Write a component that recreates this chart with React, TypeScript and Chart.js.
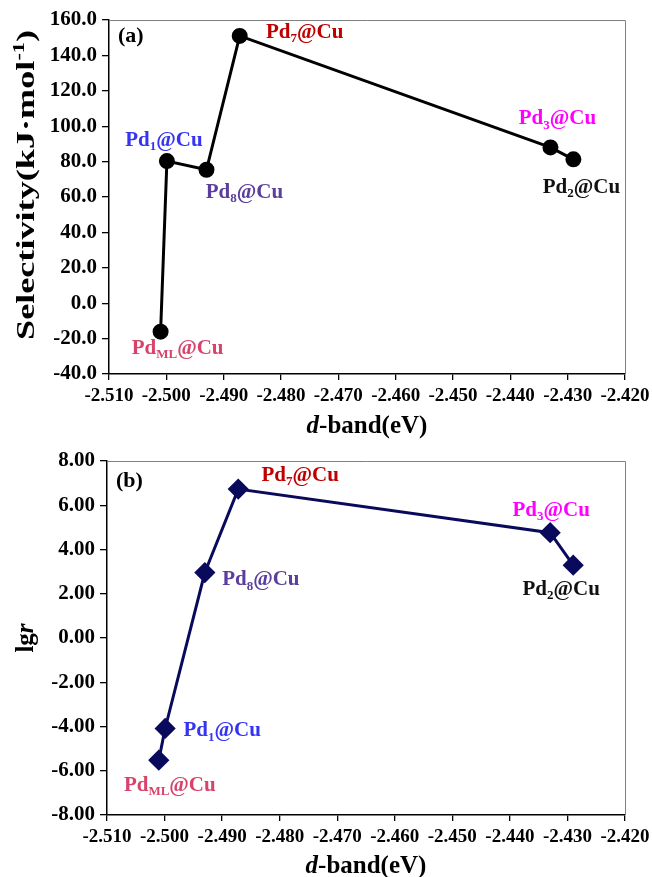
import React, { useEffect, useRef } from 'react';
import { Chart, registerables } from 'chart.js';
Chart.register(...registerables);

// ---------- data ----------
const dBand = [-2.501, -2.4999, -2.493, -2.4872, -2.433, -2.429];
const catalystSubs = ['ML', '1', '8', '7', '3', '2'];
const selectivity = [-16.1, 80.3, 75.4, 151.0, 88.0, 81.3];
const lgR = [-5.52, -4.09, 2.96, 6.73, 4.76, 3.29];
const labelColors = ['#d8436c', '#3434f2', '#5a3d9c', '#c00000', '#ff00ff', '#111111'];
const xRange = [-2.51, -2.42];
const selRange = [-40, 160];
const lgRange = [-8, 8];

// ---------- styling / layout ----------
const FAMILY = '"Liberation Serif", "Times New Roman", serif';
const topLabelOffsets = [[17, 15], [-3, -22], [38, 21], [65, -5], [7, -30], [8, 27]];
const botLabelOffsets = [[11, 24], [57, 1], [56, 6], [62, -15], [1, -24], [-12, 23]];

type Part = { t: string; sub?: boolean; sup?: boolean; italic?: boolean };

function fontFor(p: Part, size: number) {
  const s = p.sub || p.sup ? Math.round(size * 0.62) : size;
  return `${p.italic ? 'italic ' : ''}bold ${s}px ${FAMILY}`;
}

function drawRich(ctx: CanvasRenderingContext2D, parts: Part[], cx: number, cy: number, size: number, color: string, align: 'center' | 'left' = 'center') {
  ctx.save();
  ctx.fillStyle = color;
  ctx.textBaseline = 'alphabetic';
  ctx.textAlign = 'left';
  const widths = parts.map((p) => {
    ctx.font = fontFor(p, size);
    return ctx.measureText(p.t).width;
  });
  const total = widths.reduce((a, b) => a + b, 0);
  let x = align === 'center' ? cx - total / 2 : cx;
  const base = cy + size * 0.33;
  parts.forEach((p, i) => {
    ctx.font = fontFor(p, size);
    let y = base;
    if (p.sub) y = base + size * 0.2;
    if (p.sup) y = base - size * 0.38;
    ctx.fillText(p.t, x, y);
    x += widths[i];
  });
  ctx.restore();
  return total;
}

function measureRich(ctx: CanvasRenderingContext2D, parts: Part[], size: number) {
  ctx.save();
  let total = 0;
  parts.forEach((p) => {
    ctx.font = fontFor(p, size);
    total += ctx.measureText(p.t).width;
  });
  ctx.restore();
  return total;
}

type PanelCfg = {
  values: number[];
  yRange: number[];
  yStep: number;
  yDigits: number;
  lineColor: string;
  pointStyle: string;
  pointRadius: number;
  panelTag: string;
  yTitle: Part[];
  yTitleCenter: number;
  yTitleLength: number | null;
  yTitleSize: number;
  offsets: number[][];
  padTop: number;
  yWidth: number;
  xHeight: number;
  xTitleY: number;
  tagY: number;
};

function makeChart(canvas: HTMLCanvasElement, cfg: PanelCfg) {
  const xTickFont = { family: FAMILY, size: 19, weight: 'bold' as const };
  const yTickFont = { family: FAMILY, size: 21, weight: 'bold' as const };
  const overlay = {
    id: 'overlay',
    afterDraw(chart: any) {
      const ctx = chart.ctx as CanvasRenderingContext2D;
      const a = chart.chartArea;
      // frame top/right
      ctx.save();
      ctx.strokeStyle = '#808080';
      ctx.lineWidth = 1;
      ctx.beginPath();
      ctx.moveTo(a.left, a.top + 0.5);
      ctx.lineTo(a.right + 0.5, a.top + 0.5);
      ctx.lineTo(a.right + 0.5, a.bottom);
      ctx.stroke();
      ctx.restore();
      // panel tag
      drawRich(ctx, [{ t: cfg.panelTag }], a.left + 9, cfg.tagY, 22, '#000', 'left');
      // point labels
      const meta = chart.getDatasetMeta(0);
      meta.data.forEach((pt: any, i: number) => {
        const off = cfg.offsets[i];
        drawRich(
          ctx,
          [{ t: 'Pd' }, { t: catalystSubs[i], sub: true }, { t: '@Cu' }],
          pt.x + off[0],
          pt.y + off[1],
          21,
          labelColors[i]
        );
      });
      // x title
      drawRich(ctx, [{ t: 'd', italic: true }, { t: '-band(eV)' }], (a.left + a.right) / 2, cfg.xTitleY, 25, '#000');
      // y title
      ctx.save();
      ctx.translate(25, cfg.yTitleCenter);
      ctx.rotate(-Math.PI / 2);
      if (cfg.yTitleLength) {
        const w = measureRich(ctx, cfg.yTitle, cfg.yTitleSize);
        ctx.scale(cfg.yTitleLength / w, 1);
      }
      drawRich(ctx, cfg.yTitle, 0, 0, cfg.yTitleSize, '#000');
      ctx.restore();
    },
  };

  return new Chart(canvas, {
    type: 'line',
    data: {
      datasets: [
        {
          data: dBand.map((x, i) => ({ x, y: cfg.values[i] })),
          borderColor: cfg.lineColor,
          backgroundColor: cfg.lineColor,
          borderWidth: 3,
          pointStyle: cfg.pointStyle as any,
          pointRadius: cfg.pointRadius,
          pointBackgroundColor: cfg.lineColor,
          pointBorderColor: cfg.lineColor,
          tension: 0,
        },
      ],
    },
    options: {
      responsive: false,
      animation: false,
      layout: { padding: { top: cfg.padTop, right: 27, left: 0, bottom: 0 } },
      plugins: { legend: { display: false }, tooltip: { enabled: false } },
      scales: {
        x: {
          type: 'linear',
          min: xRange[0],
          max: xRange[1],
          ticks: {
            stepSize: 0.01,
            autoSkip: false,
            maxRotation: 0,
            font: xTickFont,
            color: '#000',
            padding: 5,
            callback: (v: any) => Number(v).toFixed(3),
          },
          grid: { drawOnChartArea: false, drawTicks: true, tickLength: 6, color: '#000', lineWidth: 1.3 },
          border: { color: '#000', width: 1.5 },
          afterFit: (s: any) => {
            s.height = cfg.xHeight;
            s.paddingRight = 0;
            s.paddingLeft = 0;
          },
        },
        y: {
          type: 'linear',
          min: cfg.yRange[0],
          max: cfg.yRange[1],
          ticks: {
            stepSize: cfg.yStep,
            font: yTickFont,
            color: '#000',
            padding: 5,
            callback: (v: any) => Number(v).toFixed(cfg.yDigits),
          },
          grid: { drawOnChartArea: false, drawTicks: true, tickLength: 7, color: '#000', lineWidth: 1.3 },
          border: { color: '#000', width: 1.5 },
          afterFit: (s: any) => {
            s.width = cfg.yWidth;
            s.paddingTop = 0;
            s.paddingBottom = 0;
          },
        },
      },
    },
    plugins: [overlay],
  } as any);
}

export default function App() {
  const topRef = useRef<HTMLCanvasElement>(null);
  const botRef = useRef<HTMLCanvasElement>(null);

  useEffect(() => {
    const c1 = makeChart(topRef.current!, {
      values: selectivity,
      yRange: selRange,
      yStep: 20,
      yDigits: 1,
      lineColor: '#000000',
      pointStyle: 'circle',
      pointRadius: 6.5,
      panelTag: '(a)',
      yTitle: [{ t: 'Selectivity(kJ·mol' }, { t: '-1', sup: true }, { t: ')' }],
      yTitleCenter: 185,
      yTitleLength: 310,
      yTitleSize: 26,
      offsets: topLabelOffsets,
      padTop: 20,
      yWidth: 109,
      xHeight: 66,
      xTitleY: 425,
      tagY: 35,
    });
    const c2 = makeChart(botRef.current!, {
      values: lgR,
      yRange: lgRange,
      yStep: 2,
      yDigits: 2,
      lineColor: '#0a0a5c',
      pointStyle: 'rectRot',
      pointRadius: 8.5,
      panelTag: '(b)',
      yTitle: [{ t: 'lg' }, { t: 'r', italic: true }],
      yTitleCenter: 198,
      yTitleLength: null,
      yTitleSize: 25,
      offsets: botLabelOffsets,
      padTop: 21,
      yWidth: 107,
      xHeight: 62,
      xTitleY: 425,
      tagY: 40,
    });
    return () => {
      c1.destroy();
      c2.destroy();
    };
  }, []);

  return (
    <div style={{ position: 'fixed', left: 0, top: 0, width: 652, height: 877, background: '#fff', overflow: 'hidden' }}>
      <canvas ref={topRef} width={652} height={440} style={{ position: 'absolute', left: 0, top: 0, width: 652, height: 440 }} />
      <canvas ref={botRef} width={652} height={437} style={{ position: 'absolute', left: 0, top: 440, width: 652, height: 437 }} />
    </div>
  );
}
